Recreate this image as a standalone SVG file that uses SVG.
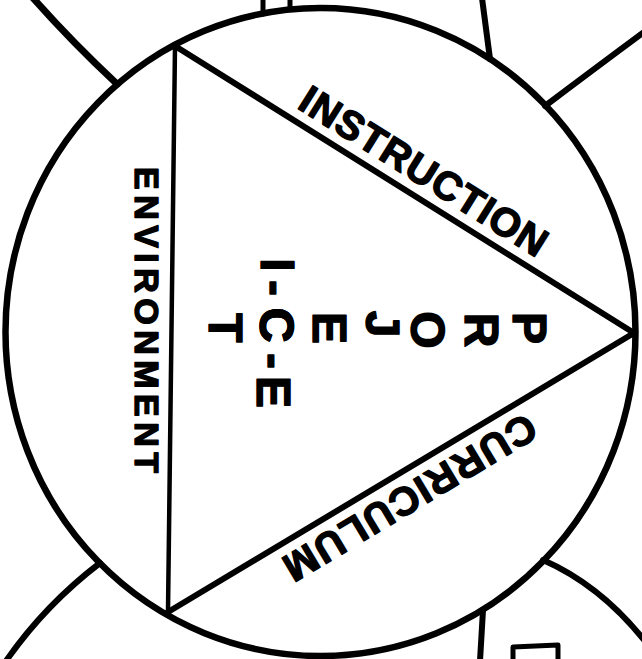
<svg xmlns="http://www.w3.org/2000/svg" width="642" height="659" viewBox="0 0 642 659">
  <style>
    .ln { fill: none; stroke: #000; stroke-linecap: round; stroke-linejoin: round; }
    .txt { font-family: "Liberation Sans", Arial, sans-serif; font-weight: bold; fill: #000; stroke: #000; stroke-width: 1.4; stroke-linejoin: round; }
  </style>
  <rect width="642" height="659" fill="#fff"/>

  <g id="neighbour-circles" class="ln" stroke-width="6">
    <path d="M33,-2 Q72,42 117,84" stroke-width="7"/>
    <path d="M482,-2 L490,59"/>
    <path d="M545,106 Q590,72 644,32"/>
    <path d="M100,563 Q45,605 6,661"/>
    <path d="M543,560 Q600,585 644,640"/>
    <path d="M483,610 L480,661"/>
    <path d="M263,-2 L263,14" stroke-width="5"/>
    <path d="M290,-2 L290,9" stroke-width="5"/>
    <path d="M513,661 V647 L558,645 V661" stroke-width="5"/>
  </g>

  <g id="main-circle">
    <ellipse class="ln" cx="320.5" cy="332" rx="315" ry="324" stroke-width="6.5"/>
  </g>

  <g id="connectors" class="ln">
    <path d="M175,46 L634,333" stroke-width="6"/>
    <path d="M634,333 L168,612" stroke-width="6"/>
    <path d="M175,46 L168,612" stroke-width="4.5"/>
  </g>

  <g id="instruction">
    <text class="txt" font-size="40" transform="translate(296,107.5) rotate(32)" x="0" y="0" textLength="284" lengthAdjust="spacing">INSTRUCTION</text>
  </g>

  <g id="curriculum">
    <text class="txt" font-size="40" transform="translate(526,412) rotate(149.1)" x="0" y="0" textLength="287" lengthAdjust="spacing">CURRICULUM</text>
  </g>

  <g id="environment">
    <text class="txt" font-size="34" transform="translate(135,167) rotate(90)" x="0" y="0" textLength="306" lengthAdjust="spacing">ENVIRONMENT</text>
  </g>

  <g id="project-ice" transform="translate(277,327) rotate(90)">
    <text class="txt" font-size="48" text-anchor="middle"><tspan x="1" y="-236">P</tspan><tspan x="3" y="-188">R</tspan><tspan x="3" y="-134">O</tspan><tspan x="-3" y="-89">J</tspan><tspan x="1" y="-36">E</tspan><tspan x="-2" y="17">C</tspan><tspan x="1" y="68">T</tspan></text>
    <text class="txt" font-size="48" text-anchor="middle"><tspan x="-62" y="16">I</tspan><tspan x="-39" y="17">-</tspan><tspan x="-2" y="17">C</tspan><tspan x="34" y="19">-</tspan><tspan x="65" y="20">E</tspan></text>
  </g>
</svg>
